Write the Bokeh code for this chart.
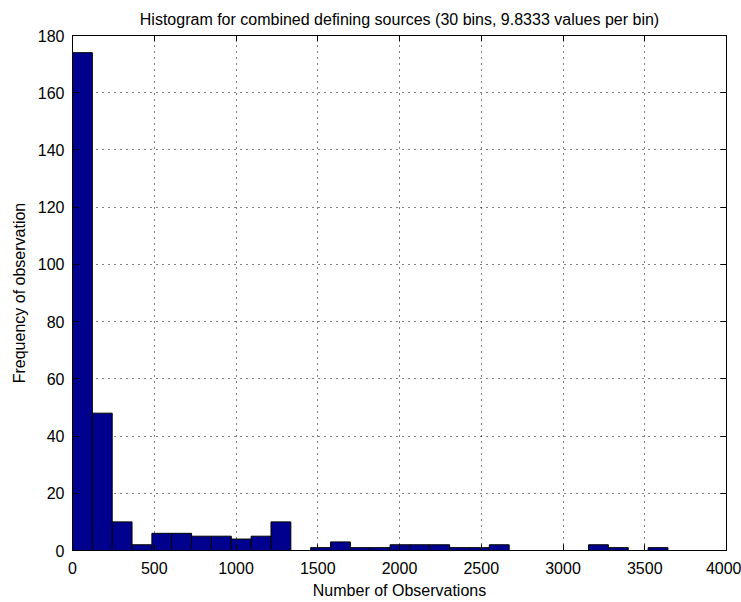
import numpy as np
from bokeh.plotting import figure
from bokeh.models import LinearAxis, FixedTicker, Range1d, ColumnDataSource, CustomLabelingPolicy
from bokeh.embed import file_html
from bokeh.resources import INLINE

# ---- data ----
counts = [174, 48, 10, 2, 6, 6, 5, 5, 4, 5,
          10, 0, 1, 3, 1, 1, 2, 2, 2, 1,
          1, 2, 0, 0, 0, 0, 2, 1, 0, 1]
x_min = 0.0
x_max = 3642.0
n_bins = 30
x_ticks = [0, 500, 1000, 1500, 2000, 2500, 3000, 3500, 4000]
y_ticks = [0, 20, 40, 60, 80, 100, 120, 140, 160, 180]
title_text = "Histogram for combined defining sources (30 bins, 9.8333 values per bin)"
x_label = "Number of Observations"
y_label = "Frequency of observation"

edges = np.linspace(x_min, x_max, n_bins + 1)
src = ColumnDataSource(dict(left=edges[:-1], right=edges[1:],
                            top=counts, bottom=[0] * n_bins))

FONT = "Liberation Sans"
FS = "16px"

p = figure(width=741, height=602, output_backend="svg", toolbar_location=None,
           x_range=Range1d(0, 4000), y_range=Range1d(0, 180),
           title=title_text,
           min_border_left=72, min_border_right=15,
           min_border_top=35, min_border_bottom=52)

p.background_fill_color = "white"
p.border_fill_color = "white"
p.outline_line_color = "black"
p.outline_line_width = 1

p.title.text_font = FONT
p.title.text_font_size = FS
p.title.text_font_style = "normal"
p.title.text_color = "black"
p.title.align = "center"
p.title.standoff = 16

p.quad(left="left", right="right", top="top", bottom="bottom", source=src,
       fill_color="#00008F", line_color="black", line_width=1)

for ax in (p.xaxis[0], p.yaxis[0]):
    ax.major_tick_in = 6
    ax.major_tick_out = 0
    ax.minor_tick_in = 0
    ax.minor_tick_out = 0
    ax.axis_line_color = "black"
    ax.major_tick_line_color = "black"
    ax.major_label_text_font = FONT
    ax.major_label_text_font_size = FS
    ax.major_label_text_color = "black"
    ax.axis_label_text_font = FONT
    ax.axis_label_text_font_size = FS
    ax.axis_label_text_font_style = "normal"
    ax.axis_label_text_color = "black"

p.xaxis[0].ticker = FixedTicker(ticks=x_ticks)
p.yaxis[0].ticker = FixedTicker(ticks=y_ticks)
p.xaxis[0].axis_label = x_label
p.yaxis[0].axis_label = y_label
p.xaxis[0].major_label_standoff = 11
p.xaxis[0].axis_label_standoff = 5
p.yaxis[0].major_label_standoff = 8
p.yaxis[0].axis_label_standoff = 7

# inward ticks on the top and right sides of the box (no labels drawn, no space taken)
top_ax = LinearAxis(ticker=FixedTicker(ticks=x_ticks),
                    major_label_policy=CustomLabelingPolicy(code="return new Set()"),
                    major_label_text_font_size="0px",
                    major_label_standoff=0, major_tick_in=6, major_tick_out=0,
                    minor_tick_in=0, minor_tick_out=0, axis_line_color="black")
right_ax = LinearAxis(ticker=FixedTicker(ticks=y_ticks),
                      major_label_policy=CustomLabelingPolicy(code="return new Set()"),
                      major_label_text_font_size="0px",
                      major_label_standoff=0, major_tick_in=6, major_tick_out=0,
                      minor_tick_in=0, minor_tick_out=0, axis_line_color="black")
p.add_layout(top_ax, "above")
p.add_layout(right_ax, "right")

p.xgrid.ticker = FixedTicker(ticks=x_ticks)
p.ygrid.ticker = FixedTicker(ticks=y_ticks)
p.grid.grid_line_color = "black"
p.grid.grid_line_dash = "1 5"
p.grid.grid_line_width = 1

open("out.html", "w").write(file_html(p, INLINE))
